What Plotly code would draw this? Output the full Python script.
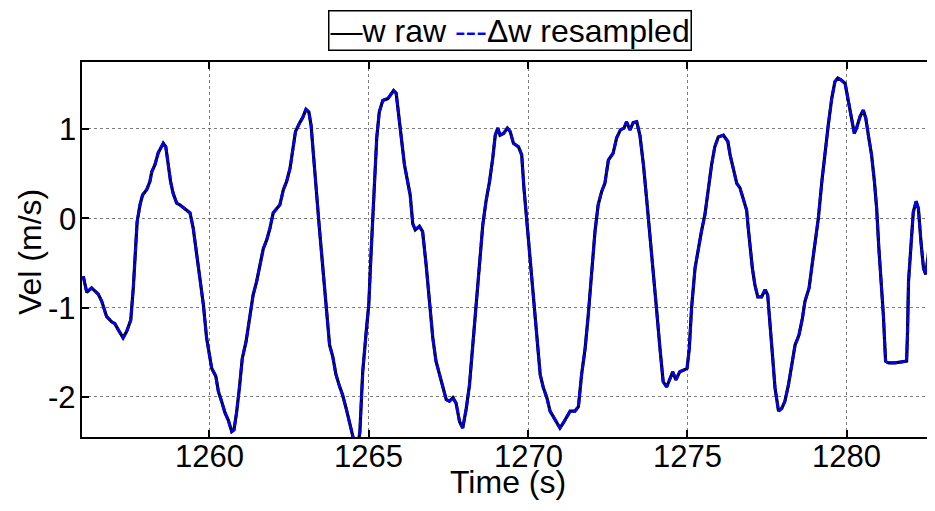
import plotly.graph_objects as go

time_s = [
    1256.04, 1256.15, 1256.30, 1256.51, 1256.62, 1256.77, 1256.93, 1257.03, 1257.14, 1257.29,
    1257.40, 1257.53, 1257.61, 1257.66, 1257.73, 1257.82, 1257.90, 1258.03, 1258.13, 1258.19,
    1258.29, 1258.39, 1258.55, 1258.63, 1258.71, 1258.78, 1258.86, 1258.97, 1259.07, 1259.23,
    1259.39, 1259.49, 1259.60, 1259.70, 1259.81, 1259.91, 1259.99, 1260.07, 1260.20, 1260.28,
    1260.38, 1260.49, 1260.59, 1260.70, 1260.77, 1260.85, 1260.94, 1261.03, 1261.15, 1261.27,
    1261.37, 1261.48, 1261.59, 1261.69, 1261.80, 1261.90, 1262.00, 1262.11, 1262.21, 1262.32,
    1262.42, 1262.53, 1262.63, 1262.70, 1262.82, 1262.93, 1263.03, 1263.12, 1263.19, 1263.26,
    1263.35, 1263.45, 1263.56, 1263.66, 1263.77, 1263.87, 1263.97, 1264.08, 1264.18, 1264.29,
    1264.39, 1264.50, 1264.62, 1264.72, 1264.81, 1264.92, 1265.00, 1265.07, 1265.13, 1265.18,
    1265.25, 1265.33, 1265.44, 1265.60, 1265.70, 1265.78, 1265.86, 1265.94, 1266.01, 1266.12,
    1266.22, 1266.30, 1266.38, 1266.46, 1266.59, 1266.69, 1266.80, 1266.90, 1267.01, 1267.11,
    1267.22, 1267.32, 1267.43, 1267.53, 1267.64, 1267.74, 1267.85, 1267.95, 1268.06, 1268.16,
    1268.26, 1268.37, 1268.47, 1268.58, 1268.68, 1268.79, 1268.89, 1268.97, 1269.05, 1269.12,
    1269.23, 1269.35, 1269.44, 1269.54, 1269.70, 1269.80, 1269.87, 1269.96, 1270.06, 1270.17,
    1270.27, 1270.38, 1270.48, 1270.59, 1270.69, 1270.85, 1271.00, 1271.11, 1271.21, 1271.32,
    1271.47, 1271.58, 1271.68, 1271.79, 1271.89, 1272.00, 1272.10, 1272.20, 1272.31, 1272.41,
    1272.52, 1272.67, 1272.78, 1272.90, 1273.01, 1273.09, 1273.20, 1273.30, 1273.41, 1273.51,
    1273.62, 1273.72, 1273.82, 1273.93, 1274.03, 1274.14, 1274.24, 1274.35, 1274.45, 1274.54,
    1274.64, 1274.76, 1274.89, 1274.99, 1275.06, 1275.13, 1275.24, 1275.34, 1275.44, 1275.55,
    1275.65, 1275.76, 1275.86, 1275.97, 1276.13, 1276.27, 1276.34, 1276.44, 1276.55, 1276.65,
    1276.76, 1276.86, 1276.91, 1276.97, 1277.04, 1277.12, 1277.21, 1277.33, 1277.44, 1277.52,
    1277.59, 1277.67, 1277.75, 1277.86, 1277.96, 1278.06, 1278.17, 1278.27, 1278.38, 1278.50,
    1278.61, 1278.69, 1278.82, 1278.90, 1279.01, 1279.11, 1279.22, 1279.32, 1279.42, 1279.53,
    1279.63, 1279.72, 1279.82, 1279.95, 1280.05, 1280.16, 1280.24, 1280.31, 1280.42, 1280.52,
    1280.60, 1280.68, 1280.78, 1280.87, 1280.94, 1281.01, 1281.10, 1281.15, 1281.22, 1281.31,
    1281.52, 1281.73, 1281.88, 1281.91, 1281.94, 1281.99, 1282.09, 1282.18, 1282.25, 1282.33,
    1282.41, 1282.48, 1282.56, 1282.65, 1282.72, 1282.80,
]

w_raw = [
    -0.65, -0.83, -0.78, -0.85, -0.93, -1.10, -1.16, -1.18, -1.25, -1.34,
    -1.27, -1.14, -0.78, -0.41, -0.04, 0.15, 0.26, 0.32, 0.41, 0.52,
    0.60, 0.73, 0.84, 0.80, 0.60, 0.41, 0.28, 0.17, 0.15, 0.11,
    0.06, -0.11, -0.41, -0.67, -0.97, -1.34, -1.53, -1.68, -1.77, -1.94,
    -2.05, -2.18, -2.26, -2.39, -2.37, -2.18, -1.90, -1.57, -1.38, -1.12,
    -0.86, -0.71, -0.50, -0.34, -0.24, -0.11, 0.06, 0.11, 0.15, 0.32,
    0.41, 0.56, 0.82, 0.97, 1.06, 1.13, 1.22, 1.19, 1.04, 0.71,
    0.34, -0.11, -0.56, -1.01, -1.42, -1.55, -1.75, -1.88, -1.98, -2.13,
    -2.28, -2.43, -2.62, -2.40, -1.72, -1.27, -0.97, -0.41, 0.04, 0.41,
    0.90, 1.19, 1.32, 1.34, 1.39, 1.43, 1.40, 1.16, 0.90, 0.60,
    0.41, 0.26, -0.06, -0.13, -0.09, -0.15, -0.52, -0.93, -1.34, -1.60,
    -1.75, -1.87, -2.03, -2.05, -2.01, -2.07, -2.28, -2.35, -2.13, -1.87,
    -1.46, -0.97, -0.52, -0.07, 0.19, 0.41, 0.67, 0.93, 1.01, 0.93,
    0.95, 1.01, 0.97, 0.84, 0.80, 0.71, 0.34, -0.04, -0.48, -0.93,
    -1.38, -1.75, -1.90, -2.01, -2.16, -2.26, -2.35, -2.29, -2.22, -2.16,
    -2.16, -2.11, -1.75, -1.46, -1.08, -0.56, -0.15, 0.15, 0.30, 0.39,
    0.65, 0.73, 0.90, 0.99, 1.01, 1.08, 0.99, 1.07, 1.08, 0.93,
    0.60, 0.22, -0.15, -0.56, -1.01, -1.46, -1.83, -1.89, -1.81, -1.72,
    -1.81, -1.72, -1.70, -1.68, -1.46, -1.01, -0.56, -0.34, -0.15, 0.04,
    0.34, 0.60, 0.80, 0.91, 0.93, 0.86, 0.71, 0.54, 0.39, 0.34,
    0.22, 0.09, -0.11, -0.34, -0.56, -0.75, -0.88, -0.88, -0.80, -0.86,
    -1.23, -1.53, -1.90, -2.16, -2.13, -2.05, -1.87, -1.64, -1.42, -1.31,
    -1.12, -0.93, -0.78, -0.56, -0.26, 0.00, 0.41, 0.75, 1.04, 1.34,
    1.53, 1.57, 1.55, 1.51, 1.31, 1.08, 0.95, 1.01, 1.14, 1.21,
    1.12, 0.93, 0.71, 0.41, 0.11, -0.34, -0.78, -1.08, -1.60, -1.62,
    -1.62, -1.61, -1.60, -1.27, -0.71, -0.45, 0.07, 0.19, 0.11, -0.26,
    -0.56, -0.63, -0.41, -0.04, 0.07, 0.06,
]

# resampled series overlays the raw one (same values)
dw_resampled = list(w_raw)

series_names = ["w raw", "\u0394w resampled"]
x_tickvals = [1260, 1265, 1270, 1275, 1280]
x_ticktext = ["1260", "1265", "1270", "1275", "1280"]
y_tickvals = [-2, -1, 0, 1]
y_ticktext = ["-2", "-1", "0", "1"]
x_title = "Time (s)"
y_title = "Vel (m/s)"

FONT = "Liberation Sans, Arial, sans-serif"
BLUE = "#0000FF"

fig = go.Figure()
fig.add_trace(go.Scatter(
    x=time_s, y=w_raw, mode="lines", name=series_names[0],
    line=dict(color="black", width=3.2), showlegend=False,
))
fig.add_trace(go.Scatter(
    x=time_s, y=dw_resampled, mode="lines", name=series_names[1],
    line=dict(color=BLUE, width=2.8, dash="7px,2px"), showlegend=False,
))

axis_common = dict(
    showline=True, linewidth=2, linecolor="black", mirror="ticks",
    ticks="inside", ticklen=7, tickwidth=2, tickcolor="black",
    showgrid=True, gridcolor="rgba(70,70,70,0.7)", gridwidth=1, griddash="dot",
    zeroline=False, automargin=False, showticklabels=False,
)

tick_font = dict(family=FONT, size=31, color="black")
title_font = dict(family=FONT, size=32, color="black")

# tick labels placed at the axis tick values
for v, t in zip(x_tickvals, x_ticktext):
    fig.add_annotation(xref="x", yref="paper", x=v, y=-0.0533, text=t,
                       showarrow=False, xanchor="center", yanchor="middle",
                       font=tick_font)
for v, t in zip(y_tickvals, y_ticktext):
    fig.add_annotation(xref="paper", yref="y", x=-0.0047, y=v, text=t,
                       showarrow=False, xanchor="right", yanchor="middle",
                       yshift=-1, font=tick_font)

# axis titles
fig.add_annotation(xref="paper", yref="paper", x=0.5, y=-0.12, text=x_title,
                   showarrow=False, xanchor="center", yanchor="middle",
                   font=title_font)
fig.add_annotation(xref="paper", yref="paper", x=-0.061, y=0.4933, text=y_title,
                   showarrow=False, xanchor="center", yanchor="middle",
                   textangle=-90, font=title_font)

# legend box drawn as a bordered text item (MATLAB-style key)
legend_text = (
    "\u2014" + series_names[0] + " "
    + "<span style='color:" + BLUE + "'>---</span>" + series_names[1]
)
fig.add_annotation(
    xref="paper", yref="paper", x=0.5023, y=1.0827,
    xanchor="center", yanchor="middle", showarrow=False,
    text=legend_text,
    font=dict(family=FONT, size=32, color="black"),
    bordercolor="black", borderwidth=1.5, borderpad=1, bgcolor="white",
)

# the page body adds an 8px offset, so the figure is sized to end at the window edge
fig.update_layout(
    width=927, height=503,
    margin=dict(l=74, r=1, t=54, b=74, autoexpand=False),
    paper_bgcolor="white", plot_bgcolor="white",
    font=dict(family=FONT, size=31, color="black"),
    showlegend=False,
    xaxis=dict(range=[1256.0, 1282.74], tickvals=x_tickvals, **axis_common),
    yaxis=dict(range=[-2.45, 1.75], tickvals=y_tickvals, **axis_common),
)

fig.write_html("out.html")
